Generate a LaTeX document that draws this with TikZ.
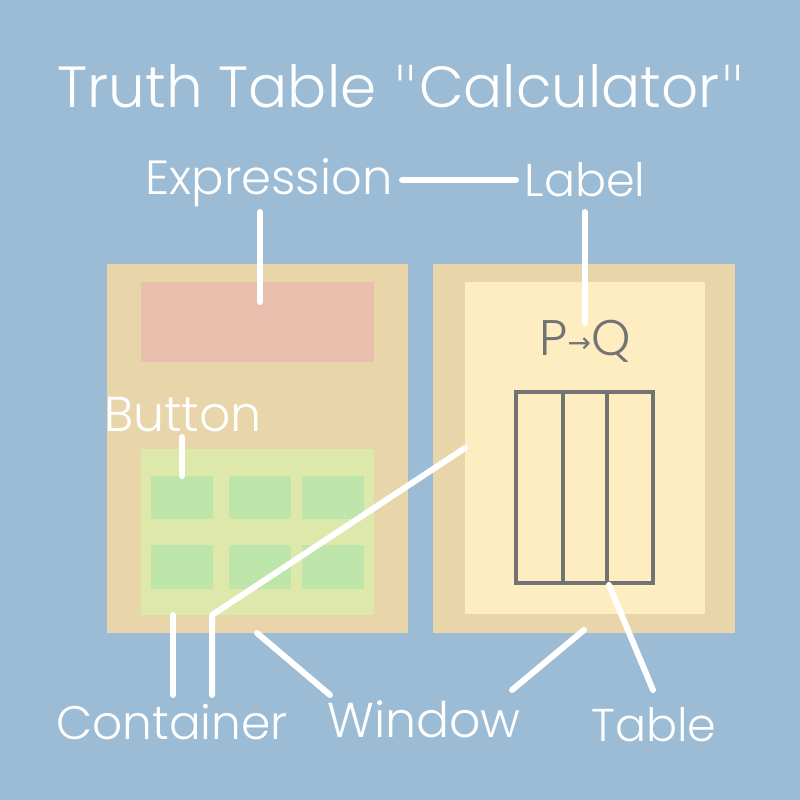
\documentclass[tikz,border=0pt]{standalone}
\usepackage{fontspec}
\setmainfont{Poppins}[UprightFont={* Light}]
\newfontfamily\symfont{DejaVu Sans}
\newfontfamily\quotefont{DejaVu Sans}[UprightFont={* ExtraLight}]
\definecolor{bgblue}{HTML}{9BBCD4}
\definecolor{tan}{HTML}{E8D6AA}
\definecolor{display}{HTML}{E8BEAC}
\definecolor{pad}{HTML}{DEE8AA}
\definecolor{key}{HTML}{BEE6AA}
\definecolor{cream}{HTML}{FFEDC2}
\definecolor{ink}{HTML}{737373}
\tikzset{
  x=1pt, y=-1pt,
}
\tikzstyle{callout}=[white,line width=6pt,line cap=round,line join=round]
\tikzstyle{caption}=[white,anchor=base,inner sep=0pt,font=\fontsize{46}{50}\selectfont]
\tikzstyle{column}=[ink,line width=4pt]
\newcommand{\dq}{{\quotefont\char34}}

\begin{document}
\begin{tikzpicture}
    \fill[bgblue] (0,0) rectangle (800,800);
    \useasboundingbox (0,0) rectangle (800,800);
    % calculator
    \fill[tan] (107,264) rectangle (408,633);
    \fill[display] (141,282) rectangle (374,362);
    \fill[pad] (141,449) rectangle (374,615);
    \foreach \xa/\xb in {151/213,229/291,302/364}{
      \fill[key] (\xa,476) rectangle (\xb,519);
      \fill[key] (\xa,545) rectangle (\xb,589);
    }
    % output window
    \fill[tan] (433,264) rectangle (735,633);
    \fill[cream] (465,282) rectangle (705,614);
    \node[ink,anchor=base,inner sep=0pt,font=\fontsize{50}{54}\selectfont] (expr) at (585,355)
      {P\raisebox{3pt}{\symfont\fontsize{28}{28}\selectfont→}Q};
    \foreach \xa/\xb in {516/563,563/607,607/653}
      \draw[column] (\xa,392) rectangle (\xb,583);
    % texts
    \node[caption,font=\fontsize{58}{62}\selectfont] (title) at (402,107) {Truth Table \dq Calculator\dq};
    \node[caption,font=\fontsize{48}{52}\selectfont] (expression) at (269,194) {Expression};
    \node[caption] (label) at (585,196) {Label};
    \node[caption,font=\fontsize{49}{52}\selectfont] (button) at (183,431) {Button};
    \node[caption,font=\fontsize{47}{50}\selectfont] (container) at (172,739) {Container};
    \node[caption,font=\fontsize{49}{52}\selectfont] (window) at (424,737) {Window};
    \node[caption] (table) at (654,741) {Table};
    % callouts
    \coordinate (e1) at (260,212); \coordinate (e2) at (260,302);
    \coordinate (l1) at (402,180); \coordinate (l2) at (516,180);
    \coordinate (l3) at (585,212); \coordinate (l4) at (585,323);
    \coordinate (b1) at (182,437); \coordinate (b2) at (182,476);
    \coordinate (c1) at (173,615); \coordinate (c2) at (173,695);
    \coordinate (c3) at (465,448); \coordinate (c4) at (212,615); \coordinate (c5) at (212,695);
    \coordinate (w1) at (257,633); \coordinate (w2) at (330,695);
    \coordinate (w3) at (584,630); \coordinate (w4) at (512,690);
    \coordinate (t1) at (609,585); \coordinate (t2) at (653,690);
    \draw[callout] (e1)--(e2);
    \draw[callout] (l1)--(l2);
    \draw[callout] (l3)--(l4);
    \draw[callout] (b1)--(b2);
    \draw[callout] (c1)--(c2);
    \draw[callout] (c3)--(c4)--(c5);
    \draw[callout] (w1)--(w2);
    \draw[callout] (w3)--(w4);
    \draw[callout] (t1)--(t2);
  \end{tikzpicture}
\end{document}
